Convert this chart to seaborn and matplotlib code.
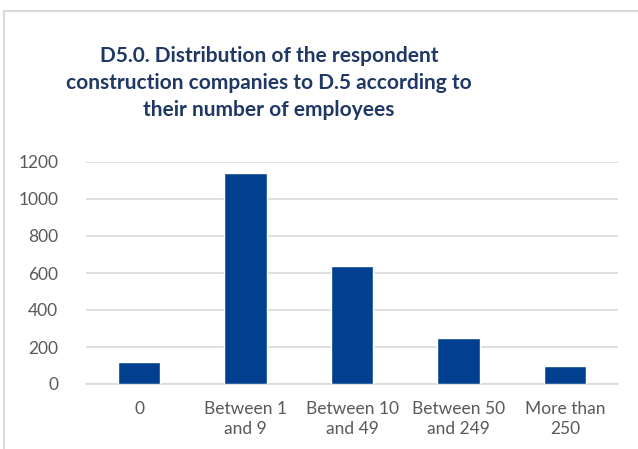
import matplotlib
matplotlib.use("Agg")
import matplotlib.pyplot as plt
import seaborn as sns
import pandas as pd
from matplotlib.patches import Rectangle

# data
categories = ["0", "Between 1\nand 9", "Between 10\nand 49", "Between 50\nand 249", "More than\n250"]
counts = [117, 1138, 636, 249, 96]
y_ticks = [0, 200, 400, 600, 800, 1000, 1200]

title = ("D5.0. Distribution of the respondent\n"
         "construction companies to D.5 according to\n"
         "their number of employees")

df = pd.DataFrame({"Category": categories, "Count": counts})

sns.set_style("white")
plt.rcParams["font.family"] = ["Lato", "DejaVu Sans"]

fig = plt.figure(figsize=(6.38, 4.49), dpi=100)
ax = fig.add_axes([86 / 638, 65 / 449, 532 / 638, 222 / 449])

sns.barplot(data=df, x="Category", y="Count", color="#00408F", width=0.4,
            saturation=1, ax=ax, zorder=3)

ax.set_ylim(0, 1200)
ax.set_xlim(-0.5, len(categories) - 0.5)
ax.set_yticks(y_ticks)
ax.yaxis.grid(True, color="#D9D9D9", linewidth=1.2, zorder=0)
ax.set_axisbelow(True)
for side in ["top", "right", "left"]:
    ax.spines[side].set_visible(False)
ax.spines["bottom"].set_color("#D9D9D9")
ax.spines["bottom"].set_linewidth(1.2)
ax.tick_params(axis="both", length=0, labelsize=12.5, colors="#595959")
ax.tick_params(axis="x", pad=12)
ax.tick_params(axis="y", pad=20)
for lbl in ax.get_xticklabels():
    lbl.set_linespacing(1.3)
ax.set_xlabel("")
ax.set_ylabel("")

fig.text(269 / 638, 1 - 83 / 449, title, ha="center", va="center",
         fontsize=15, fontweight="bold", color="#1F3864", linespacing=1.45)

# chart area border
fig.patches.append(Rectangle((4 / 638, -0.05), 1.0, (449 - 11) / 449 + 0.05,
                             transform=fig.transFigure, fill=False,
                             edgecolor="#D9D9D9", linewidth=1.5))

fig.savefig("out.png", dpi=100)
